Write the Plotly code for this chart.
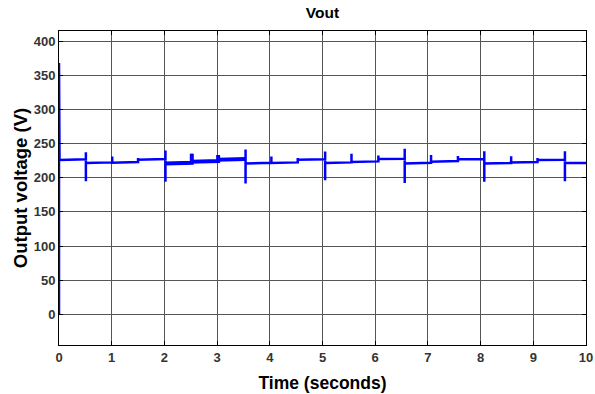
import plotly.graph_objects as go

# Switching events of the inverter output (seconds)
event_t = [0.51, 1.01, 1.50, 2.02, 2.52, 3.02, 3.54, 4.03, 4.53, 5.05,
           5.55, 6.06, 6.56, 7.06, 7.57, 8.07, 8.58, 9.08, 9.60]
# Transient peak and dip at each event (V)
spike_hi = [237.5, 231, 229, 240, 235, 233.5, 241.5, 231, 229, 238.5,
            235, 232.5, 242.5, 233.5, 232, 239, 231.5, 229, 239]
spike_lo = [195, None, None, 194, None, None, 191.5, None, None, 196.5,
            None, None, 192.5, None, None, 194, None, None, 195]
# Steady level at the start and end of each interval after an event (V)
level_start = [221.5, 222, 226.5, 221, 223.5, 226.5, 221, 221.5, 226.5, 221.5,
               223, 227.5, 221, 223.5, 227, 221, 222.5, 226, 221.5]
level_end = [222.5, 223, 227.5, 222, 224.5, 227.5, 222, 222.5, 227, 222.5,
             224, 228, 222, 224.5, 227.5, 221.5, 223, 226.5, 221.5]

# Start-up transient
startup_t = [0.0, 0.0, 0.01, 0.51]
startup_v = [0.0, 368.0, 226.0, 227.0]
t_end = 10.0

# Heavier ripple interval
heavy_from, heavy_to = 2.02, 3.54

t_pts = list(startup_t)
v_pts = list(startup_v)
for i, t in enumerate(event_t):
    t_pts.append(t)
    v_pts.append(spike_hi[i])
    if spike_lo[i] is not None:
        t_pts.append(t)
        v_pts.append(spike_lo[i])
    t_pts.append(t)
    v_pts.append(level_start[i])
    t_next = event_t[i + 1] if i + 1 < len(event_t) else t_end
    t_pts.append(t_next)
    v_pts.append(level_end[i])

heavy_t = [t for t in t_pts if heavy_from < t < heavy_to]
heavy_v = [v for t, v in zip(t_pts, v_pts) if heavy_from < t < heavy_to]
# keep only the flat parts of the heavy interval
heavy_t = [heavy_from] + heavy_t + [heavy_to]
heavy_v = [level_start[event_t.index(heavy_from)]] + heavy_v + [level_end[event_t.index(heavy_to) - 1]]

fig = go.Figure()
fig.add_trace(go.Scatter(x=t_pts, y=v_pts, mode="lines",
                         line=dict(color="#0000ff", width=2.5),
                         showlegend=False, hoverinfo="skip"))
fig.add_trace(go.Scatter(x=heavy_t, y=heavy_v, mode="lines",
                         line=dict(color="#0000ff", width=4),
                         showlegend=False, hoverinfo="skip"))

axis_common = dict(
    showline=True, linecolor="black", linewidth=1, mirror="allticks",
    ticks="inside", ticklen=4, tickcolor="black", automargin=False,
    showgrid=True, gridcolor="#555555", gridwidth=1, zeroline=False,
    tickfont=dict(family="Liberation Sans", size=13, color="#333333", weight="bold"),
)

fig.update_xaxes(range=[0, 10], tickvals=list(range(0, 11)),
                 title=dict(text="Time (seconds)", standoff=13,
                            font=dict(family="Liberation Sans", size=17.5,
                                      color="black", weight="bold")),
                 **axis_common)
fig.update_yaxes(range=[-45, 415], tickvals=list(range(0, 401, 50)),
                 title=dict(text="Output voltage (V)", standoff=1,
                            font=dict(family="Liberation Sans", size=18.5,
                                      color="black", weight="bold")),
                 **axis_common)

fig.update_layout(
    width=595, height=394,
    margin=dict(l=59, r=9, t=31, b=49),
    paper_bgcolor="white", plot_bgcolor="white",
    title=dict(text="Vout", x=0.5, xref="paper", y=0.982, yanchor="top",
               font=dict(family="Liberation Sans", size=15.5, color="black",
                         weight="bold")),
)

fig.write_html("out.html")
